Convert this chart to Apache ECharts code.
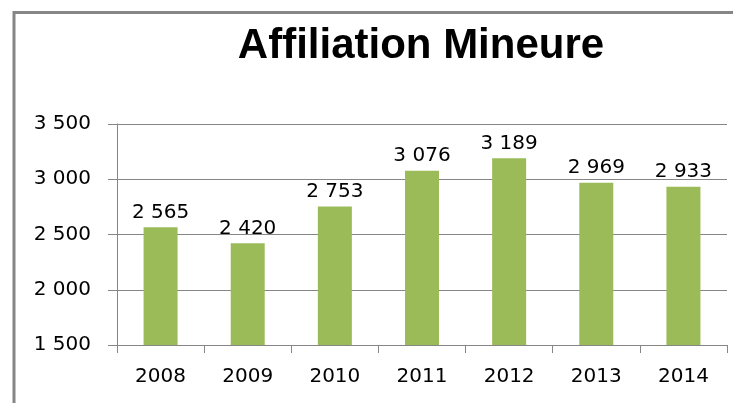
<!DOCTYPE html>
<html>
<head>
<meta charset="utf-8">
<script src="https://cdn.jsdelivr.net/npm/echarts@6/dist/echarts.min.js"></script>
<style>
html,body{margin:0;padding:0;background:#fff;}
#c{width:733px;height:403px;}
</style>
</head>
<body>
<div id="c"></div>
<script>
const titleText = "Affiliation Mineure";
const categories = ["2008", "2009", "2010", "2011", "2012", "2013", "2014"];
const values = [2565, 2420, 2753, 3076, 3189, 2969, 2933];
const yMin = 1500, yMax = 3500, yStep = 500;

function fmt(v) {
  return String(v).replace(/\B(?=(\d{3})+(?!\d))/g, ' ');
}

const labelFont = 'DejaVu Sans';
const chart = echarts.init(document.getElementById('c'), null, {renderer: 'canvas'});
chart.setOption({
  animation: false,
  backgroundColor: '#ffffff',
  graphic: [
    {
      type: 'rect',
      shape: {x: 14, y: 12.5, width: 900, height: 600},
      style: {fill: 'none', stroke: '#868686', lineWidth: 3},
      silent: true
    },
    {
      type: 'text',
      x: 421, y: 46,
      style: {
        text: titleText,
        fontFamily: 'Liberation Sans',
        fontWeight: 'bold',
        fontSize: 42,
        fill: '#000000',
        align: 'center',
        verticalAlign: 'middle'
      }
    }
  ],
  grid: {left: 117, right: 6, top: 124, bottom: 58, containLabel: false},
  xAxis: {
    type: 'category',
    data: categories,
    boundaryGap: true,
    axisLine: {show: true, lineStyle: {color: '#868686', width: 1}},
    axisTick: {show: true, length: 8, alignWithLabel: false, lineStyle: {color: '#868686', width: 1}},
    axisLabel: {margin: 22, color: '#000', fontFamily: labelFont, fontSize: 20},
    splitLine: {show: false}
  },
  yAxis: {
    type: 'value',
    min: yMin, max: yMax, interval: yStep,
    axisLine: {show: true, lineStyle: {color: '#868686', width: 1}},
    axisTick: {show: true, length: 9, lineStyle: {color: '#868686', width: 1}},
    axisLabel: {margin: 26, color: '#000', fontFamily: labelFont, fontSize: 20, formatter: fmt},
    splitLine: {show: true, lineStyle: {color: '#868686', width: 1}}
  },
  series: [{
    type: 'bar',
    data: values,
    barWidth: 34,
    itemStyle: {color: '#9BBB59'},
    label: {
      show: true,
      position: 'top',
      distance: 5,
      color: '#000',
      fontFamily: labelFont,
      fontSize: 20,
      formatter: p => fmt(p.value)
    }
  }]
});
</script>
</body>
</html>
